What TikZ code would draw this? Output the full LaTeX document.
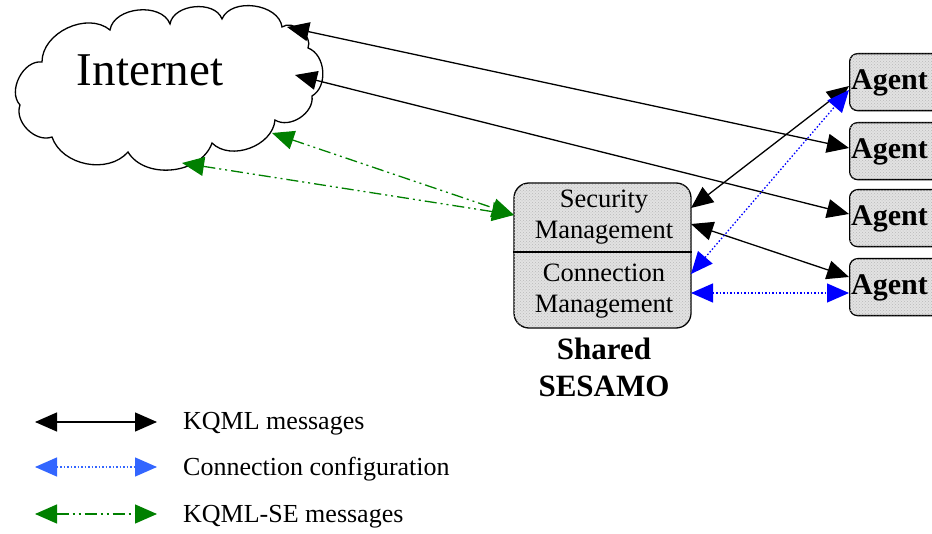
\documentclass[tikz,border=0pt]{standalone}
\usepackage{fontspec}
\setmainfont{Liberation Serif}
\usetikzlibrary{arrows.meta,patterns}
\definecolor{boxfill}{RGB}{226,226,226}
\definecolor{dotcol}{RGB}{185,185,185}
\definecolor{dgreen}{RGB}{0,128,0}
\definecolor{lblue}{RGB}{51,102,255}
\begin{document}
\begin{tikzpicture}[x=1pt,y=-1pt,
  tri/.tip={Triangle[length=22pt,width=19pt]},
  kqml/.style={tri-tri, line width=1.3pt, black},
  conf/.style={tri-tri, line width=1.3pt, blue, dash pattern=on 1.5pt off 2pt},
  lconf/.style={tri-tri, line width=1.3pt, lblue, dash pattern=on 1.5pt off 2pt},
  se/.style={tri-tri, line width=1.3pt, dgreen, dash pattern=on 12pt off 4pt on 2pt off 4pt on 2pt off 4pt},
  cloudline/.style={line width=1.3pt, black, fill=white},
  texture/.style={fill=boxfill, postaction={pattern=crosshatch dots, pattern color=dotcol}},
  sbox/.style={draw, line width=1.3pt, texture, rounded corners=15pt, minimum width=177pt, minimum height=145pt, inner sep=0pt},
  abox/.style={draw, line width=1.3pt, texture, rounded corners=8pt, minimum width=130pt, minimum height=57pt, inner sep=0pt, anchor=north west},
  stext/.style={align=center, font=\fontsize{26.5}{31}\selectfont, inner sep=0pt},
  atext/.style={anchor=west, font=\fontsize{30}{32}\selectfont\bfseries, inner sep=0pt},
  lbl/.style={align=center, font=\fontsize{31}{37}\selectfont\bfseries, inner sep=0pt},
  legtext/.style={anchor=west, font=\fontsize{26}{28}\selectfont, inner sep=0pt}
]
\useasboundingbox (0,0) rectangle (932,534);
\clip (0,0) rectangle (932,534);

% cloud
\draw[cloudline] (20,105) to[bend left=70] (42,62)
  to[bend left=65] (110,30)
  to[bend left=75] (170,24)
  to[bend left=75] (222,19)
  to[bend left=75] (282,27)
  to[bend left=75] (308,48)
  to[bend left=65] (312,96)
  to[bend left=65] (275,120)
  to[bend left=65] (212,143)
  to[bend left=65] (128,152)
  to[bend left=60] (52,137)
  to[bend left=65] cycle;
\node[font=\fontsize{47}{50}\selectfont, inner sep=0pt] (inet) at (150,70) {Internet};

% shared SESAMO
\node[sbox] (ses) at (602.5,255.5) {};
\draw[line width=1.1pt] (ses.west |- 0,252) -- (ses.east |- 0,252);
\node[stext] (sec) at (604,217) {Security\\Management};
\node[stext] (con) at (604,291) {Connection\\Management};
\node[lbl] (sh) at (604,367) {Shared\\SESAMO};

% agents
\node[abox] (a1) at (849,53) {};
\node[abox] (a2) at (849,122) {};
\node[abox] (a3) at (849,189) {};
\node[abox] (a4) at (849,258) {};
\node[atext] (a1t) at ([xshift=2pt,yshift=-1pt]a1.west) {Agent};
\node[atext] (a2t) at ([xshift=2pt,yshift=-1pt]a2.west) {Agent};
\node[atext] (a3t) at ([xshift=2pt,yshift=-1pt]a3.west) {Agent};
\node[atext] (a4t) at ([xshift=2pt,yshift=-1pt]a4.west) {Agent};

% connection points
\coordinate (ia) at (287,27);
\coordinate (ib) at (295,75);
\coordinate (ic) at (272,133);
\coordinate (id) at (182,163);
\coordinate (sl) at (514,215);
\coordinate (s1) at (691,208);
\coordinate (s2) at (691,224);
\coordinate (s3) at (691,274);
\coordinate (s4) at (691,293);
\coordinate (p1) at (849,86);
\coordinate (p1b) at (849,90);
\coordinate (p2) at (849,148);
\coordinate (p3) at (849,214);
\coordinate (p4) at (849,277);
\coordinate (p4b) at (849,293);

\draw[kqml] (ia) -- (p2);
\draw[kqml] (ib) -- (p3);
\draw[kqml] (s1) -- (p1);
\draw[kqml] (s2) -- (p4);
\draw[conf] (s3) -- (p1b);
\draw[conf] (s4) -- (p4b);
\draw[se] (ic) -- (sl);
\draw[se] (id) -- (sl);

% legend
\coordinate (l1a) at (35,422); \coordinate (l1b) at (157,422);
\coordinate (l2a) at (35,467); \coordinate (l2b) at (157,467);
\coordinate (l3a) at (35,514); \coordinate (l3b) at (157,514);
\draw[kqml] (l1a) -- (l1b);
\draw[lconf] (l2a) -- (l2b);
\draw[se] (l3a) -- (l3b);
\node[legtext] (t1) at (183,424) {KQML messages};
\node[legtext] (t2) at (183,469) {Connection configuration};
\node[legtext] (t3) at (183,517) {KQML-SE messages};
\end{tikzpicture}
\end{document}
